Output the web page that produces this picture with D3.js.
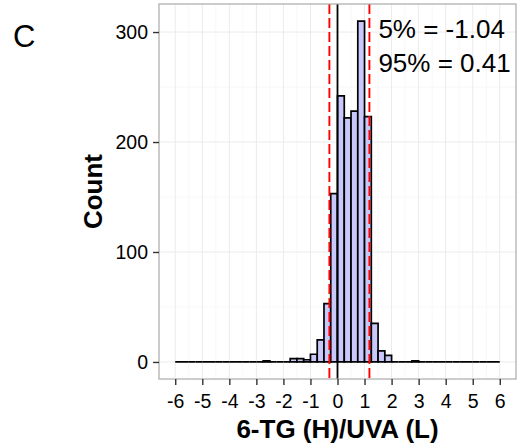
<!DOCTYPE html>
<html>
<head>
<meta charset="utf-8">
<script src="https://cdn.jsdelivr.net/npm/d3@7"></script>
<style>
  body { margin: 0; background: #fff; }
  svg text { font-family: "Liberation Sans", Arial, sans-serif; fill: #000; }
  .axis path { display: none; }
  .axis line { stroke: #333; stroke-width: 1.4; }
</style>
</head>
<body>
<div class="hist"></div>
<script>
// histogram: bins of 0.25 from -6 to 6
var binStart = -6;
var binWidth = 0.25;
var counts = [
  0, 0, 0, 0, 0, 0, 0, 0,      // -6 .. -4
  0, 0, 0, 0, 0, 1, 0, 0,      // -4 .. -2
  0, 3, 3, 2, 7, 20, 53, 153,  // -2 .. 0
  242, 222, 228, 310, 223, 35, 10, 6, // 0 .. 2
  0, 0, 0, 1, 0, 0, 0, 0,      // 2 .. 4
  0, 0, 0, 0, 0, 0, 0, 0       // 4 .. 6
];
var xTicks = [-6, -5, -4, -3, -2, -1, 0, 1, 2, 3, 4, 5, 6];
var yTicks = [0, 100, 200, 300];
var xMinor = [-5.5, -4.5, -3.5, -2.5, -1.5, -0.5, 0.5, 1.5, 2.5, 3.5, 4.5, 5.5];
var yMinor = [50, 150, 250];
var zeroLine = 0;
var quantLines = [-0.30, 1.18];
var notes = ["5% = -1.04", "95% = 0.41"];

var W = 522, H = 448;
var margin = { top: 4, right: 6, bottom: 69, left: 159 },
    width = W - margin.left - margin.right,
    height = H - margin.top - margin.bottom;

var bins = counts.map(function(c, i) {
  return { x0: binStart + i * binWidth, x1: binStart + (i + 1) * binWidth, n: c };
});

var svg = d3.select('.hist')
  .append('svg')
  .attr('width', W)
  .attr('height', H);

var g = svg.append('g')
  .attr('transform', 'translate(' + margin.left + ',' + margin.top + ')');

// ggplot style 5% expansion
var xr = 12 * 0.05, yMax = d3.max(counts), yr = yMax * 0.05;
var x = d3.scaleLinear().domain([-6 - xr, 6 + xr]).range([0, width]);
var y = d3.scaleLinear().domain([-yr, yMax + yr]).range([height, 0]);

// panel grid
g.selectAll('.vminor').data(xMinor).enter().append('line')
  .attr('x1', function(d) { return x(d); }).attr('x2', function(d) { return x(d); })
  .attr('y1', 0).attr('y2', height)
  .attr('stroke', '#f6f6f6').attr('stroke-width', 0.8);
g.selectAll('.hminor').data(yMinor).enter().append('line')
  .attr('y1', function(d) { return y(d); }).attr('y2', function(d) { return y(d); })
  .attr('x1', 0).attr('x2', width)
  .attr('stroke', '#f6f6f6').attr('stroke-width', 0.8);
g.selectAll('.vmajor').data(xTicks).enter().append('line')
  .attr('x1', function(d) { return x(d); }).attr('x2', function(d) { return x(d); })
  .attr('y1', 0).attr('y2', height)
  .attr('stroke', '#ebebeb').attr('stroke-width', 1);
g.selectAll('.hmajor').data(yTicks).enter().append('line')
  .attr('y1', function(d) { return y(d); }).attr('y2', function(d) { return y(d); })
  .attr('x1', 0).attr('x2', width)
  .attr('stroke', '#ebebeb').attr('stroke-width', 1);

// bars, drawn as closed paths so that empty bins still show as a flat outline
g.selectAll('path.barra')
  .data(bins)
  .enter()
  .append('path')
  .attr('class', 'barra')
  .attr('d', function(d) {
    return 'M' + x(d.x0) + ',' + y(0) + 'V' + y(d.n) + 'H' + x(d.x1) + 'V' + y(0) + 'Z';
  })
  .attr('fill', '#c8c8fa')
  .attr('stroke', '#000')
  .attr('stroke-width', 1.7)
  .attr('stroke-linejoin', 'miter');

// reference lines
g.append('line')
  .attr('x1', x(zeroLine)).attr('x2', x(zeroLine))
  .attr('y1', 0).attr('y2', height)
  .attr('stroke', '#000').attr('stroke-width', 1.8);

g.selectAll('.quant').data(quantLines).enter().append('line')
  .attr('x1', function(d) { return x(d); }).attr('x2', function(d) { return x(d); })
  .attr('y1', 0).attr('y2', height)
  .attr('stroke', '#ff0000').attr('stroke-width', 1.9)
  .attr('stroke-dasharray', '10,4');

// panel border
g.append('rect')
  .attr('x', 0).attr('y', 0)
  .attr('width', width).attr('height', height)
  .attr('fill', 'none')
  .attr('stroke', '#aaaaaa')
  .attr('stroke-width', 1.2);

// axes
var fmt = function(d) { return String(d); };
var xAxis = d3.axisBottom(x).tickValues(xTicks).tickFormat(fmt).tickSize(6).tickPadding(5);
var yAxis = d3.axisLeft(y).tickValues(yTicks).tickFormat(fmt).tickSize(6).tickPadding(5);

g.append('g')
  .attr('class', 'axis')
  .attr('transform', 'translate(0,' + height + ')')
  .call(xAxis)
  .selectAll('text')
  .style('font-size', '19.5px')
  .attr('dy', '0.9em');

g.append('g')
  .attr('class', 'axis')
  .call(yAxis)
  .selectAll('text')
  .style('font-size', '19.5px');

// annotation text
g.selectAll('.note').data(notes).enter().append('text')
  .attr('x', x(quantLines[1]) + 9)
  .attr('y', function(d, i) { return 34 + i * 34; })
  .style('font-size', '26px')
  .text(function(d) { return d; });

// axis titles
svg.append('text')
  .attr('x', margin.left + width / 2)
  .attr('y', 438)
  .attr('text-anchor', 'middle')
  .style('font-size', '26px')
  .style('font-weight', 'bold')
  .text('6-TG (H)/UVA (L)');

svg.append('text')
  .attr('transform', 'translate(102,' + (margin.top + height / 2) + ') rotate(-90)')
  .attr('text-anchor', 'middle')
  .style('font-size', '26px')
  .style('font-weight', 'bold')
  .text('Count');

// panel tag
svg.append('text')
  .attr('x', 13)
  .attr('y', 47)
  .style('font-size', '31px')
  .text('C');
</script>
</body>
</html>
